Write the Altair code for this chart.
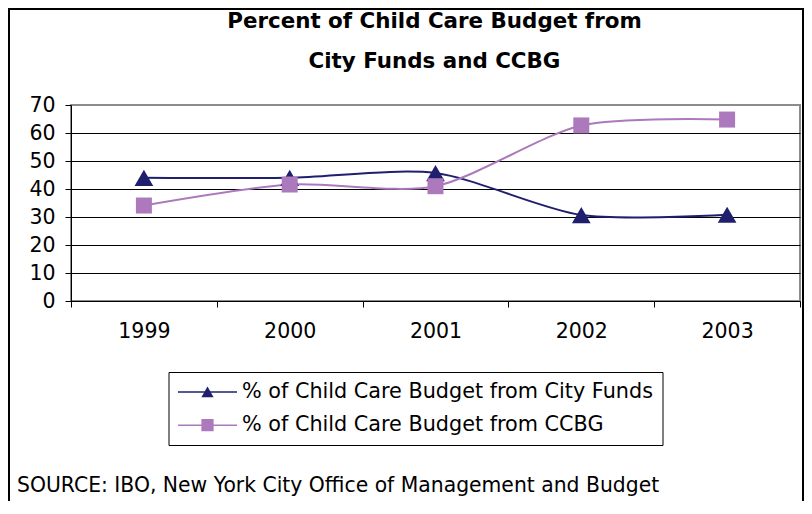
import math
import altair as alt
import pandas as pd

# ---------------- data ----------------
years = ["1999", "2000", "2001", "2002", "2003"]
series_names = [
    "% of Child Care Budget from City Funds",
    "% of Child Care Budget from CCBG",
]
city_funds = [44.0, 44.0, 45.7, 30.7, 30.8]
ccbg = [34.1, 41.6, 41.0, 62.7, 64.8]
y_ticks = [0, 10, 20, 30, 40, 50, 60, 70]
title_lines = ["Percent of Child Care Budget from", "City Funds and CCBG"]
source_text = "SOURCE: IBO, New York City Office of Management and Budget"

colors = ["#1F1F6E", "#AD79BD"]
shapes = ["triangle-up", "square"]
marker_sizes = [350, 256]

rows = []
for name, vals in zip(series_names, [city_funds, ccbg]):
    for yr, v in zip(years, vals):
        rows.append({"year": yr, "series": name, "marker": name, "value": v})
df = pd.DataFrame(rows)

FONT = "DejaVu Sans"
AXIS_FS = 20.5
LEG_FS = 20.75

# ---------------- legend geometry ----------------
LEG_X, LEG_Y, LEG_PAD = 97.5, 267, 9.5
SYM_SIZE = 324                      # sqrt 18 < font size -> entry size = font size
unit = math.sqrt(SYM_SIZE) / 2
entry = LEG_FS
cx = entry / 2
line_len = 59
line_path = f"M{(0 - cx) / unit:.3f},0L{(line_len - cx) / unit:.3f},0"
row_gap = 32

legend_lines = alt.Legend(
    title=None,
    orient="none",
    legendX=LEG_X,
    legendY=LEG_Y,
    direction="vertical",
    symbolType=line_path,
    symbolSize=SYM_SIZE,
    symbolStrokeWidth=1.5,
    labelFont=FONT,
    labelFontSize=LEG_FS,
    labelColor="black",
    labelLimit=1000,
    labelOffset=64 - entry,
    rowPadding=row_gap - entry,
    padding=LEG_PAD,
    strokeColor="black",
    fillColor="white",
    zindex=1,
)

legend_markers = alt.Legend(
    title=None,
    orient="none",
    legendX=LEG_X + LEG_PAD + line_len / 2 - entry / 2,
    legendY=LEG_Y + LEG_PAD,
    direction="vertical",
    symbolSize=150,
    symbolStrokeWidth=0,
    labelFont=FONT,
    labelFontSize=LEG_FS,
    labelExpr="''",
    labelLimit=1000,
    rowPadding=row_gap - entry,
    padding=0,
    zindex=2,
)

x_enc = alt.X(
    "year:O",
    bandPosition=0.5,
    scale=alt.Scale(type="band", paddingInner=0, paddingOuter=0),
    axis=alt.Axis(
        title=None,
        labelAngle=0,
        tickBand="extent",
        grid=False,
        labelPadding=14,
        tickSize=6,
    ),
)
y_enc = alt.Y(
    "value:Q",
    scale=alt.Scale(domain=[0, 70], nice=False),
    axis=alt.Axis(
        title=None,
        values=y_ticks,
        grid=True,
        labelPadding=10,
        tickSize=6,
        gridColor={"condition": {"test": "datum.value === 70", "value": "#8c8c8c"}, "value": "black"},
    ),
)

base = alt.Chart(df)

lines = base.mark_line(interpolate="cardinal", tension=0.2, strokeWidth=2).encode(
    x=x_enc,
    y=y_enc,
    color=alt.Color("series:N", scale=alt.Scale(domain=series_names, range=colors), legend=legend_lines),
)
points = base.mark_point(filled=True, opacity=1, strokeWidth=0).encode(
    x=x_enc,
    y=y_enc,
    fill=alt.Fill("marker:N", scale=alt.Scale(domain=series_names, range=colors), legend=legend_markers),
    shape=alt.Shape("marker:N", scale=alt.Scale(domain=series_names, range=shapes), legend=legend_markers),
    size=alt.Size("marker:N", scale=alt.Scale(domain=series_names, range=marker_sizes), legend=None),
)

one = pd.DataFrame({"k": [0]})

frame = alt.Chart(one).mark_rect(fillOpacity=0, stroke="black", strokeWidth=2).encode(
    x=alt.value(-62), x2=alt.value(732), y=alt.value(-96), y2=alt.value(430)
)

title_text = alt.Chart(one).mark_text(
    font=FONT, fontSize=21.4, fontWeight="bold", color="black",
    align="center", baseline="top", lineHeight=40,
).encode(x=alt.value(363.5), y=alt.value(-94), text=alt.value(title_lines))

source = alt.Chart(one).mark_text(
    font=FONT, fontSize=20.35, color="black", align="left", baseline="middle",
).encode(x=alt.value(-54), y=alt.value(381), text=alt.value(source_text))

chart = (
    alt.layer(frame, lines, points, title_text, source)
    .resolve_legend(color="independent", fill="independent", shape="independent")
    .properties(
        width=729,
        height=196,
        padding={"left": 63, "top": 97, "right": 4, "bottom": 200},
        autosize=alt.AutoSizeParams(type="none"),
        background="white",
    )
    .configure_view(stroke="#8c8c8c", strokeWidth=2)
    .configure_axis(
        labelFont=FONT,
        labelFontSize=AXIS_FS,
        labelColor="black",
        domainColor="black",
        domainWidth=1,
        tickColor="black",
        tickWidth=1,
        gridWidth=1,
    )
    .configure_legend(strokeWidth=1)
)

chart.save("out.html", embed_options={"renderer": "svg", "actions": False})
